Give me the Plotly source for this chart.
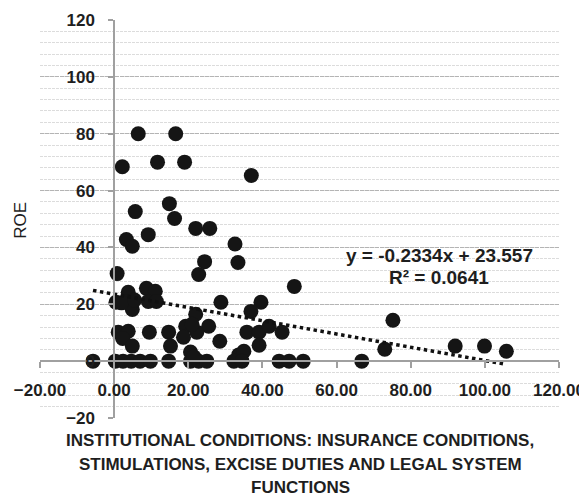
import plotly.graph_objects as go
import numpy as np

# Scatter data (institutional conditions index vs ROE)
x_vals = [6.5, 16.6, 2.2, 11.7, 19.0, 37.0,
          5.7, 14.9, 16.3, 22.0, 25.8, 9.2, 3.3, 4.9, 32.6,
          24.4, 22.8, 33.4, 48.6, 0.8,
          3.8, 0.5, 3.3, 4.9, 8.7, 11.1, 9.2, 11.4, 2.0, 5.5,
          28.8, 39.6, 36.9, 22.0,
          1.1, 3.8, 2.3, 4.9, 9.5, 14.7, 15.2, 19.3, 25.5, 18.7, 22.3, 21.0,
          28.5, 35.8, 39.1, 41.8, 39.1, 45.3, 20.6, 33.6, 35.0,
          -5.7, 0.3, 2.4, 4.6, 7.0, 9.8, 14.7, 20.6, 22.8, 25.0, 32.3, 34.5,
          44.5, 47.2, 51.0, 66.8, 21.5,
          75.2, 73.0, 92.0, 99.9, 105.8]
y_vals = [80.0, 80.0, 68.4, 70.0, 70.0, 65.3,
          52.6, 55.4, 50.2, 46.7, 46.7, 44.5, 42.8, 40.4, 41.2,
          35.0, 30.5, 34.7, 26.3, 30.8,
          24.2, 20.7, 21.0, 18.2, 25.6, 24.6, 21.0, 21.0, 20.5, 21.5,
          20.7, 20.7, 17.5, 16.5,
          10.2, 10.5, 8.0, 5.3, 10.2, 10.2, 5.3, 12.3, 12.3, 8.4, 10.2, 13.0,
          7.0, 10.2, 10.2, 12.3, 5.6, 10.2, 3.2, 2.2, 3.5,
          0.0, 0.0, 0.0, 0.0, 0.0, 0.0, 0.0, 0.0, 0.0, 0.0, 0.0, 0.0,
          0.0, 0.0, 0.0, 0.0, 1.5,
          14.4, 4.2, 5.3, 5.3, 3.5]

# Linear trendline shown on the chart
SLOPE = -0.2334
INTERCEPT = 23.557
R2 = 0.0641

x_ticks = [-20, 0, 20, 40, 60, 80, 100, 120]
y_ticks = [-20, 0, 20, 40, 60, 80, 100, 120]

FONT = "Liberation Sans, Arial, sans-serif"
TXT = "#1e1e1e"
AX = "#a0a0a0"

fig = go.Figure()

fig.add_trace(go.Scatter(
    x=x_vals, y=y_vals, mode="markers",
    marker=dict(size=15, color="#151515", line=dict(width=0)),
    showlegend=False, hoverinfo="skip"))

tx = np.array([min(x_vals), max(x_vals)])
fig.add_trace(go.Scatter(
    x=tx, y=SLOPE * tx + INTERCEPT, mode="lines",
    line=dict(color="#111111", width=3.5, dash="dot"),
    showlegend=False, hoverinfo="skip"))

pos_x = (0 - x_ticks[0]) / (x_ticks[-1] - x_ticks[0])
pos_y = (0 - y_ticks[0]) / (y_ticks[-1] - y_ticks[0])

fig.update_layout(
    width=579, height=491,
    margin=dict(l=32, r=28, t=12, b=81),
    paper_bgcolor="white", plot_bgcolor="white",
    font=dict(family=FONT, color=TXT),
    xaxis=dict(
        range=[x_ticks[0], x_ticks[-1]], tickvals=x_ticks, tickformat=".2f",
        anchor="free", position=pos_y, automargin=False,
        ticklabeloverflow="allow",
        showline=True, linecolor=AX, linewidth=2,
        ticks="outside", ticklen=6, tickcolor=AX, tickwidth=1.5,
        showgrid=False, zeroline=False,
        tickfont=dict(family=FONT, size=17, color=TXT, weight="bold"),
        ticklabelstandoff=7,
    ),
    yaxis=dict(
        range=[y_ticks[0], y_ticks[-1]], tickvals=y_ticks,
        anchor="free", position=pos_x, automargin=False,
        ticklabeloverflow="allow",
        showline=True, linecolor=AX, linewidth=1.5,
        ticks="outside", ticklen=5, tickcolor=AX, tickwidth=1.5,
        showgrid=True, gridcolor="#b4b4b4", gridwidth=1, griddash="4px,1px",
        minor=dict(dtick=4, showgrid=True, gridcolor="#dcdcdc", gridwidth=1,
                   griddash="3px,1px", ticks=""),
        zeroline=False,
        tickfont=dict(family=FONT, size=17, color=TXT, weight="bold"),
        ticklabelstandoff=10,
    ),
    annotations=[
        dict(text="ROE", xref="paper", yref="paper", x=-0.037, y=0.4975,
             textangle=-90, showarrow=False, xanchor="center", yanchor="middle",
             font=dict(family=FONT, size=17, color=TXT)),
        dict(text="INSTITUTIONAL CONDITIONS: INSURANCE CONDITIONS,",
             xref="paper", yref="paper", x=0.501, y=-0.0553, showarrow=False,
             xanchor="center", yanchor="middle",
             font=dict(family=FONT, size=17, color=TXT, weight="bold")),
        dict(text="STIMULATIONS, EXCISE DUTIES AND LEGAL SYSTEM",
             xref="paper", yref="paper", x=0.501, y=-0.1156, showarrow=False,
             xanchor="center", yanchor="middle",
             font=dict(family=FONT, size=17, color=TXT, weight="bold")),
        dict(text="FUNCTIONS",
             xref="paper", yref="paper", x=0.501, y=-0.1734, showarrow=False,
             xanchor="center", yanchor="middle",
             font=dict(family=FONT, size=17, color=TXT, weight="bold")),
        dict(text=f"y = {SLOPE}x + {INTERCEPT}", xref="x", yref="y",
             x=87.7, y=37.3, showarrow=False, xanchor="center", yanchor="middle",
             font=dict(family=FONT, size=19, color=TXT, weight="bold")),
        dict(text=f"R² = {R2}", xref="x", yref="y",
             x=87.7, y=29.5, showarrow=False, xanchor="center", yanchor="middle",
             font=dict(family=FONT, size=19, color=TXT, weight="bold")),
    ],
)

fig.write_html("out.html", config={"displayModeBar": False})
